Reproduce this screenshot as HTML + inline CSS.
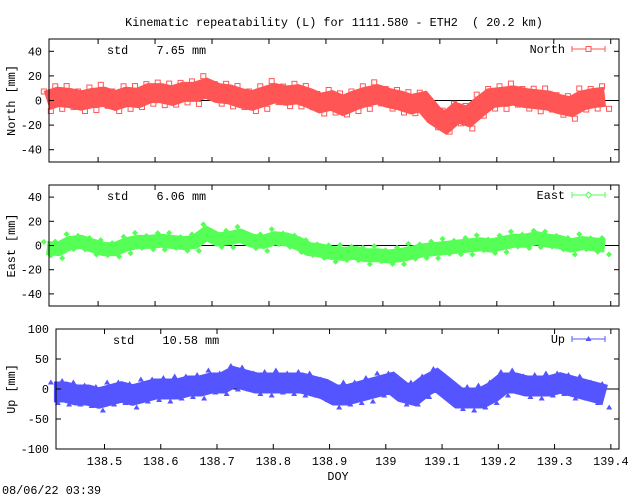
<!DOCTYPE html>
<html><head><meta charset="utf-8">
<style>
html,body{margin:0;padding:0;background:#fff;}
svg{display:block;font-family:"Liberation Mono","DejaVu Sans Mono",monospace;font-size:11.8px;}
text{white-space:pre;}
</style></head>
<body>
<svg id="chart" width="640" height="496" viewBox="0 0 640 496" xmlns="http://www.w3.org/2000/svg">
<text x="334" y="26" text-anchor="middle">Kinematic repeatability (L) for 1111.580 - ETH2  ( 20.2 km)</text>
<text x="338" y="480" text-anchor="middle">DOY</text>
<text x="2" y="494">08/06/22 03:39</text>
<g id="plots"></g>
</svg>
<script>
const doy = [138.41,138.43,138.45,138.47,138.49,138.51,138.53,138.55,138.57,138.59,138.61,138.63,138.65,138.67,138.69,138.71,138.73,138.75,138.77,138.79,138.81,138.83,138.85,138.87,138.89,138.91,138.93,138.95,138.97,138.99,139.01,139.03,139.05,139.07,139.09,139.11,139.13,139.15,139.17,139.19,139.21,139.23,139.25,139.27,139.29,139.31,139.33,139.35,139.37,139.39];
const northVals = [0,3,2,0,2,3,0,3,2,6,6,4,7,7,10,6,5,2,0,3,6,4,5,2,-2,0,-4,0,3,5,2,0,-3,-1,-12,-18,-10,-13,-5,2,3,4,2,1,0,-3,-5,0,2,3];
const eastVals = [-2,-3,2,3,0,-3,-3,1,3,3,4,3,2,3,10,5,6,8,4,3,6,5,2,-3,-4,-6,-7,-6,-8,-8,-9,-8,-6,-4,-3,-2,-1,0,1,0,2,4,4,6,4,3,0,2,1,0];
const upVals = [-5,-5,-10,-10,-15,-10,-5,-10,-5,0,0,0,5,5,10,10,20,15,10,10,10,10,10,5,0,-10,-10,-5,0,5,10,-5,-10,5,15,0,-15,-15,-15,-5,10,10,5,5,5,10,5,0,-5,-10];
const xTicks = [138.5,138.6,138.7,138.8,138.9,139,139.1,139.2,139.3,139.4];
const northTicks = [-40,-20,0,20,40];
const eastTicks = [-40,-20,0,20,40];
const upTicks = [-100,-50,0,50,100];

const NS='http://www.w3.org/2000/svg';
const root=document.getElementById('plots');
function mk(tag,attrs,parent){const e=document.createElementNS(NS,tag);for(const k in attrs)e.setAttribute(k,attrs[k]);(parent||root).appendChild(e);return e;}
const XMIN=138.4138, XMAX=139.4145;

const panels=[
 {name:'north',vals:northVals,ticks:northTicks,ymin:-50,ymax:50,x0:49,x1:619,y0:39,y1:162,color:'#ff5555',band:20,label:'North [mm]',legend:'North',std:'std    7.65 mm',stdx:107,marker:'sq'},
 {name:'east',vals:eastVals,ticks:eastTicks,ymin:-50,ymax:50,x0:49,x1:619,y0:185,y1:306,color:'#55ff55',band:14,label:'East [mm]',legend:'East',std:'std    6.06 mm',stdx:107,marker:'dia'},
 {name:'up',vals:upVals,ticks:upTicks,ymin:-100,ymax:100,x0:56,x1:619,y0:329,y1:449,color:'#5555ff',band:21,label:'Up [mm]',legend:'Up',std:'std    10.58 mm',stdx:113,marker:'tri'}
];

panels.forEach(p=>{
  const g=mk('g',{});
  
  
  const sx=v=>p.x0+(v-XMIN)/(XMAX-XMIN)*(p.x1-p.x0);
  const sy=v=>p.y1-(v-p.ymin)/(p.ymax-p.ymin)*(p.y1-p.y0);
  const z=mk('line',{x1:p.x0,x2:p.x1,y1:sy(0),y2:sy(0),stroke:'#000','stroke-width':1},g);
  
  
  const pts=doy.map((d,i)=>sx(d).toFixed(1)+','+sy(p.vals[i]).toFixed(1)).join(' ');
  const band=mk('polyline',{points:pts,fill:'none',stroke:p.color,'stroke-width':p.band,'stroke-linejoin':'miter','stroke-linecap':'butt'},g);
  
  
  doy.forEach((d,i)=>{
    const cx=sx(d), cy=sy(p.vals[i]);
    const offs=[-(p.band/2-1+(i%3)*1.5), (p.band/2-1+((i+1)%3)*1.5)];
    offs.forEach((o,k)=>{
      const yy=cy+o, xx=cx+(k?4:-3);
      let m;
      if(p.marker==='sq') m=mk('rect',{x:xx-2.5,y:yy-2.5,width:5,height:5,fill:'none',stroke:p.color},g);
      else if(p.marker==='dia') m=mk('path',{d:`M${xx} ${yy-3}L${xx+3} ${yy}L${xx} ${yy+3}L${xx-3} ${yy}Z`,fill:p.color},g);
      else m=mk('path',{d:`M${xx} ${yy-3}L${xx+3} ${yy+2}L${xx-3} ${yy+2}Z`,fill:p.color},g);
      
      
    });
  });
  const fr=mk('rect',{x:p.x0,y:p.y0,width:p.x1-p.x0,height:p.y1-p.y0,fill:'none',stroke:'#000','stroke-width':1},g);
  
  
  p.ticks.forEach(t=>{
    const y=sy(t);
    mk('line',{x1:p.x0,x2:p.x0+5,y1:y,y2:y,stroke:'#000'},g);
    mk('line',{x1:p.x1-5,x2:p.x1,y1:y,y2:y,stroke:'#000'},g);
    const tl=mk('text',{x:p.x0-7,y:y+4,'text-anchor':'end'},g);
    tl.textContent=t;
    
    
  });
  xTicks.forEach(t=>{
    const x=sx(t);
    mk('line',{x1:x,x2:x,y1:p.y1,y2:p.y1-5,stroke:'#000'},g);
    mk('line',{x1:x,x2:x,y1:p.y0,y2:p.y0+5,stroke:'#000'},g);
    if(p.name==='up'){
      const xl=mk('text',{x:x,y:p.y1+16,'text-anchor':'middle'},g);
      xl.textContent=t;
      
      
    }
  });
  const cy=(p.y0+p.y1)/2;
  const yl=mk('text',{x:15,y:cy,'text-anchor':'middle',transform:`rotate(-90 15 ${cy})`},g);
  yl.textContent=p.label;
  
  
  const st=mk('text',{x:p.stdx,y:p.y0+15},g);
  st.textContent=p.std;
  
  
  const lg=mk('g',{},g);
  
  
  const ly=p.y0+10;
  const lt=mk('text',{x:565,y:ly+4,'text-anchor':'end'},lg);
  lt.textContent=p.legend;
  mk('line',{x1:572,x2:605,y1:ly,y2:ly,stroke:p.color},lg);
  mk('line',{x1:572,x2:572,y1:ly-3,y2:ly+3,stroke:p.color},lg);
  mk('line',{x1:605,x2:605,y1:ly-3,y2:ly+3,stroke:p.color},lg);
  if(p.marker==='sq') mk('rect',{x:586,y:ly-2.5,width:5,height:5,fill:'#fff',stroke:p.color},lg);
  else if(p.marker==='dia') mk('path',{d:`M588.5 ${ly-3}L591.5 ${ly}L588.5 ${ly+3}L585.5 ${ly}Z`,fill:'#fff',stroke:p.color},lg);
  else mk('path',{d:`M588.5 ${ly-3}L591.5 ${ly+2}L585.5 ${ly+2}Z`,fill:p.color},lg);
});
</script>
</body></html>
